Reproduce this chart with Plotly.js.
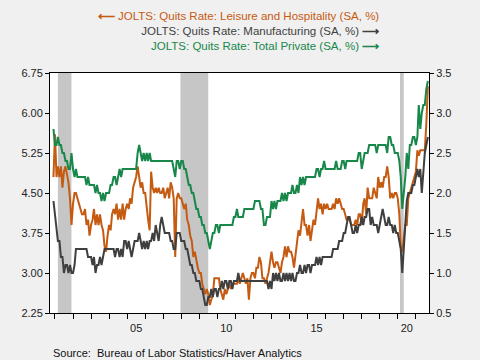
<!DOCTYPE html>
<html>
<head>
<meta charset="utf-8">
<script src="https://cdn.plot.ly/plotly-3.0.1.min.js"></script>
<style>html,body{margin:0;padding:0;background:#f0f0f0;}#chart{width:480px;height:360px;}</style>
</head>
<body>
<div id="chart"></div>
<script>
// Monthly data, Dec 2000 .. Sep 2021
const startYear = 2000, startMonth = 12;

const leisureHospitality = [
  4.8,
  5.6,4.8,5.0,4.8,5.0,4.6,4.9,5.0,4.8,4.7,4.4,3.9,
  4.3,4.5,4.5,4.4,4.3,4.2,4.1,4.1,4.2,3.9,4.0,3.7,
  3.9,4.0,4.2,3.9,4.1,3.9,4.1,3.9,3.8,3.5,3.4,3.7,
  3.9,3.8,4.1,4.2,4.1,4.3,4.0,4.2,4.0,4.3,4.0,4.2,
  4.3,4.2,4.4,4.3,4.6,4.7,4.8,5.0,4.8,4.6,4.7,4.5,
  4.5,4.2,4.0,3.8,4.9,4.6,4.5,4.6,4.5,4.6,4.5,4.5,
  4.6,4.4,4.5,4.6,4.4,4.7,4.6,4.4,3.3,4.4,4.5,4.4,
  4.4,4.3,4.2,4.3,4.0,3.9,3.7,3.6,3.3,3.4,3.2,3.1,
  3.0,3.0,2.8,2.7,2.6,2.7,2.6,2.4,2.5,2.6,2.9,2.9,
  2.9,2.9,2.7,2.6,2.5,2.7,2.6,2.7,2.8,2.7,2.8,2.8,
  2.8,2.8,2.9,2.8,2.9,3.0,2.9,2.8,2.9,2.5,2.9,3.0,
  3.0,2.9,3.1,3.1,3.3,3.2,2.9,2.9,2.8,2.9,3.0,3.2,
  3.4,3.2,3.1,3.2,3.2,3.1,3.0,3.2,3.3,3.5,3.3,3.5,
  3.4,3.4,3.3,3.1,3.3,3.6,3.8,3.7,4.0,4.2,3.9,3.9,
  3.7,3.9,3.6,3.8,4.0,3.9,4.2,4.4,4.2,4.3,4.1,4.3,
  4.2,4.3,4.2,4.2,4.2,4.3,4.2,4.4,4.3,4.4,4.3,4.2,
  4.2,4.1,4.0,4.0,4.0,3.9,3.9,3.9,4.0,3.9,4.1,4.1,
  3.9,4.3,4.4,4.1,4.6,4.4,4.4,4.4,4.6,4.5,4.4,4.8,
  4.6,4.7,4.6,4.8,4.8,5.0,4.8,4.4,4.5,4.4,4.5,4.5,
  4.4,4.1,3.5,3.4,3.7,3.9,3.9,4.4,4.5,4.6,4.7,4.8,
  4.9,5.3,5.2,5.3,5.3,5.3,5.3,5.8,6.5
];

const manufacturing = [
  1.9,
  1.7,1.5,1.4,1.4,1.2,1.2,1.0,1.1,1.1,1.0,1.1,1.0,
  1.0,1.1,1.3,1.3,1.3,1.3,1.3,1.3,1.3,1.3,1.2,1.2,
  1.2,1.1,1.2,1.0,1.1,1.1,1.2,1.1,1.2,1.3,1.3,1.3,
  1.3,1.3,1.3,1.3,1.2,1.3,1.3,1.2,1.3,1.2,1.4,1.4,
  1.3,1.4,1.3,1.2,1.3,1.4,1.4,1.4,1.5,1.4,1.3,1.4,
  1.3,1.4,1.3,1.4,1.4,1.5,1.4,1.6,1.5,1.4,1.6,1.7,
  1.6,1.5,1.5,1.5,1.5,1.4,1.4,1.3,1.3,1.5,1.5,1.5,
  1.4,1.4,1.4,1.3,1.3,1.2,1.1,1.1,1.0,1.0,0.9,0.9,
  0.9,0.8,0.8,0.7,0.6,0.6,0.7,0.7,0.8,0.7,0.8,0.8,
  0.7,0.8,0.8,0.9,0.8,0.9,0.9,0.8,0.9,0.9,0.8,0.9,
  0.9,0.9,1.0,0.9,0.9,0.9,0.9,0.9,0.9,0.9,0.9,0.9,
  0.9,0.9,0.9,0.9,0.9,0.9,0.9,0.9,0.9,0.9,0.8,0.9,
  0.8,1.0,0.9,1.0,0.9,1.0,0.9,0.9,1.0,0.9,1.0,0.9,
  1.0,0.9,1.0,0.9,0.9,1.0,1.0,1.1,1.0,1.0,1.1,1.0,
  1.1,1.1,1.0,1.1,1.1,1.1,1.2,1.1,1.2,1.1,1.2,1.2,
  1.2,1.2,1.2,1.2,1.2,1.3,1.3,1.3,1.3,1.4,1.4,1.4,
  1.5,1.5,1.6,1.7,1.7,1.6,1.5,1.5,1.6,1.5,1.6,1.6,
  1.7,1.6,1.7,1.7,1.8,1.8,1.6,1.7,1.6,1.6,1.6,1.5,
  1.6,1.7,1.8,1.7,1.6,1.6,1.7,1.6,1.6,1.5,1.6,1.5,
  1.5,1.4,1.3,1.0,1.3,1.6,1.9,2.0,2.0,2.0,2.1,2.1,
  2.2,2.3,2.2,2.3,2.0,2.3,2.5,2.6,2.7
];

const totalPrivate = [
  2.8,
  2.6,2.6,2.7,2.6,2.6,2.5,2.5,2.4,2.4,2.3,2.3,2.5,
  2.3,2.2,2.3,2.2,2.2,2.2,2.2,2.2,2.2,2.1,2.2,2.1,
  2.1,2.1,2.1,2.0,2.1,2.0,2.0,1.9,2.0,1.9,2.0,2.0,
  2.0,2.1,2.1,2.2,2.2,2.1,2.2,2.3,2.2,2.3,2.3,2.3,
  2.3,2.3,2.3,2.3,2.3,2.3,2.3,2.5,2.6,2.5,2.4,2.5,
  2.4,2.5,2.4,2.5,2.4,2.4,2.4,2.4,2.4,2.4,2.4,2.4,
  2.4,2.4,2.4,2.4,2.4,2.4,2.4,2.3,2.2,2.4,2.4,2.3,
  2.4,2.4,2.3,2.3,2.2,2.1,2.1,2.0,2.0,1.9,1.8,1.8,
  1.7,1.7,1.6,1.6,1.5,1.5,1.4,1.3,1.4,1.5,1.5,1.6,
  1.6,1.5,1.6,1.6,1.6,1.6,1.6,1.6,1.6,1.6,1.6,1.7,
  1.7,1.8,1.7,1.7,1.7,1.7,1.8,1.8,1.8,1.8,1.8,1.8,
  1.8,1.9,1.9,1.9,1.9,1.8,1.8,1.6,1.6,1.7,1.7,1.7,
  1.9,1.8,1.9,1.8,1.9,1.9,1.9,2.0,1.9,2.0,1.9,2.0,
  2.0,2.0,2.1,2.0,2.0,2.1,2.0,2.2,2.1,2.2,2.1,2.2,
  2.2,2.2,2.2,2.2,2.2,2.2,2.3,2.3,2.2,2.3,2.3,2.4,
  2.3,2.3,2.3,2.3,2.3,2.3,2.3,2.4,2.3,2.3,2.3,2.4,
  2.4,2.3,2.4,2.4,2.4,2.4,2.4,2.4,2.4,2.4,2.5,2.5,
  2.3,2.4,2.5,2.5,2.5,2.6,2.6,2.6,2.6,2.6,2.5,2.6,
  2.6,2.6,2.6,2.6,2.6,2.5,2.7,2.7,2.6,2.6,2.5,2.5,
  2.5,2.4,2.2,1.8,2.0,2.2,2.5,2.3,2.6,2.6,2.7,2.7,
  2.6,2.7,3.1,2.8,3.0,3.1,3.1,3.3,3.4
];

const recessions = [
  ['2001-03-01', '2001-11-30'],
  ['2007-12-15', '2009-06-30'],
  ['2020-02-15', '2020-04-30']
];

const tickYears = [2001,2002,2003,2004,2005,2006,2007,2008,2009,2010,2011,2012,2013,2014,2015,2016,2017,2018,2019,2020,2021];
const labeledYears = [2005, 2010, 2015, 2020];
const leftTicks = [2.25, 3.00, 3.75, 4.50, 5.25, 6.00, 6.75];
const rightTicks = [0.5, 1.0, 1.5, 2.0, 2.5, 3.0, 3.5];

const seriesNames = [
  'JOLTS: Quits Rate: Leisure and Hospitality (SA, %)',
  'JOLTS: Quits Rate: Manufacturing (SA, %)',
  'JOLTS: Quits Rate: Total Private (SA, %)'
];
const sourceText = 'Source:  Bureau of Labor Statistics/Haver Analytics';

// ---- build
const colors = {lh: '#c55a11', mfg: '#3f3f3f', tp: '#17874a'};
const n = leisureHospitality.length;
const dates = [];
for (let i = 0; i < n; i++) {
  const m0 = startMonth - 1 + i;
  const y = startYear + Math.floor(m0 / 12);
  const m = (m0 % 12) + 1;
  dates.push(y + '-' + String(m).padStart(2, '0') + '-01');
}

const traces = [
  {x: dates, y: manufacturing, yaxis: 'y2', type: 'scatter', mode: 'lines',
   line: {color: colors.mfg, width: 2}, name: seriesNames[1], hoverinfo: 'skip'},
  {x: dates, y: totalPrivate, yaxis: 'y2', type: 'scatter', mode: 'lines',
   line: {color: colors.tp, width: 2}, name: seriesNames[2], hoverinfo: 'skip'},
  {x: dates, y: leisureHospitality, yaxis: 'y', type: 'scatter', mode: 'lines',
   line: {color: colors.lh, width: 2}, name: seriesNames[0], hoverinfo: 'skip'}
];

const shapes = recessions.map(r => ({
  type: 'rect', xref: 'x', yref: 'paper', x0: r[0], x1: r[1], y0: 0, y1: 1,
  fillcolor: '#c6c6c6', line: {width: 0}, layer: 'below'
}));

const arrowStyle = "font-size:12px;font-weight:bold";
const titleText =
  "<span style='color:" + colors.lh + "'><span style='" + arrowStyle + "'>\u27F5</span> " + seriesNames[0] + "</span><br>" +
  "<span style='color:" + colors.mfg + "'>" + seriesNames[1] + " <span style='" + arrowStyle + "'>\u27F6</span></span><br>" +
  "<span style='color:" + colors.tp + "'>" + seriesNames[2] + " <span style='" + arrowStyle + "'>\u27F6</span></span>";

const font = 'Liberation Sans, Arial, sans-serif';

const layout = {
  width: 480, height: 360,
  paper_bgcolor: '#f0f0f0', plot_bgcolor: '#ffffff',
  margin: {l: 50, r: 51, t: 73, b: 47, pad: 0},
  showlegend: false,
  font: {family: font, size: 11, color: '#222'},
  title: {text: titleText, x: 0.79, xanchor: 'right', xref: 'container',
          y: 0.945, yanchor: 'top', yref: 'container',
          font: {family: font, size: 11.5}},
  xaxis: {
    type: 'date', range: ['2000-09-22', '2021-09-24'],
    tickmode: 'array',
    tickvals: tickYears.map(y => y + '-01-01'),
    ticktext: tickYears.map(y => labeledYears.includes(y) ? String(y).slice(2) : ''),
    ticklabelshift: 9,
    ticks: 'outside', ticklen: 5, tickcolor: '#000', tickwidth: 1,
    showline: true, linecolor: '#000', linewidth: 1, mirror: true,
    showgrid: false, zeroline: false, fixedrange: true,
    tickfont: {family: font, size: 11, color: '#222'}
  },
  yaxis: {
    range: [2.25, 6.75], tickmode: 'array', tickvals: leftTicks,
    ticktext: leftTicks.map(v => v.toFixed(2)),
    ticks: 'outside', ticklen: 4, tickcolor: '#000',
    showline: true, linecolor: '#000', linewidth: 1,
    showgrid: false, zeroline: false, fixedrange: true,
    tickfont: {family: font, size: 11, color: '#222'}
  },
  yaxis2: {
    overlaying: 'y', side: 'right',
    range: [0.5, 3.5], tickmode: 'array', tickvals: rightTicks,
    ticktext: rightTicks.map(v => v.toFixed(1)),
    ticks: 'outside', ticklen: 4, tickcolor: '#000',
    showline: true, linecolor: '#000', linewidth: 1,
    showgrid: false, zeroline: false, fixedrange: true,
    tickfont: {family: font, size: 11, color: '#222'}
  },
  shapes: shapes,
  annotations: [{
    text: sourceText, xref: 'paper', yref: 'paper',
    x: 0.003, y: -0.165, xanchor: 'left', yanchor: 'middle',
    showarrow: false, font: {family: font, size: 11, color: '#111'}
  }]
};

Plotly.newPlot('chart', traces, layout, {staticPlot: true, displayModeBar: false});
</script>
</body>
</html>
